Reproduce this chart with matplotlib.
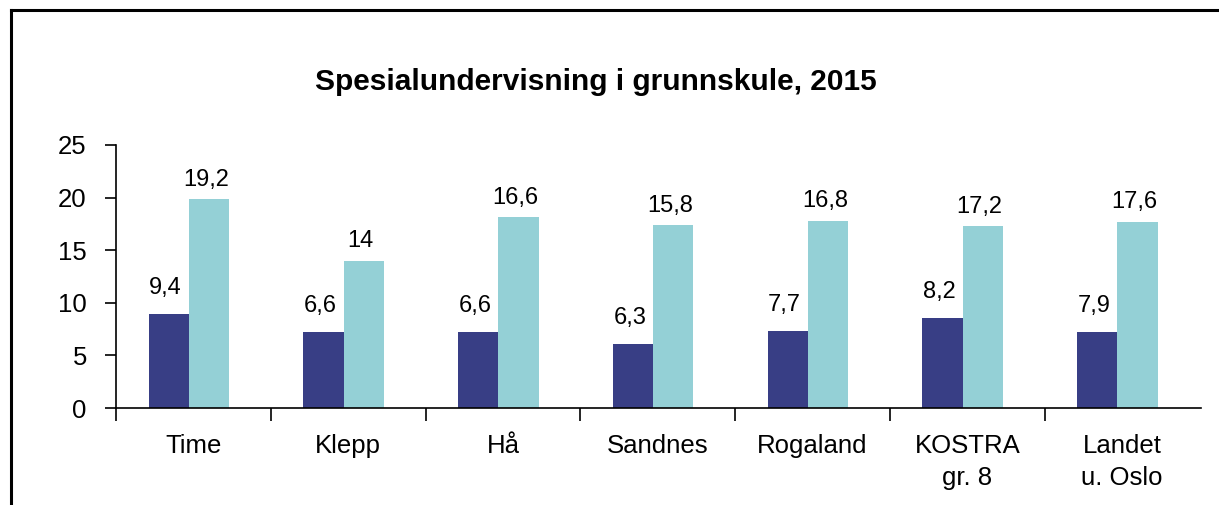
import matplotlib.pyplot as plt
from matplotlib.lines import Line2D

plt.rcParams['font.family'] = ['Liberation Sans', 'DejaVu Sans']

categories = ['Time', 'Klepp', 'Hå', 'Sandnes', 'Rogaland', 'KOSTRA\ngr. 8', 'Landet\nu. Oslo']
# bar heights as drawn in the picture
dark_vals = [8.95, 7.2, 7.2, 6.1, 7.3, 8.55, 7.2]
light_vals = [19.85, 14.0, 18.15, 17.4, 17.8, 17.3, 17.7]
# data labels as printed above the bars
dark_labels = ['9,4', '6,6', '6,6', '6,3', '7,7', '8,2', '7,9']
light_labels = ['19,2', '14', '16,6', '15,8', '16,8', '17,2', '17,6']

dark_col = '#383E85'
light_col = '#94D0D6'

fig = plt.figure(figsize=(12.19, 5.05), dpi=100)
ax = fig.add_axes([116 / 1219, 1 - 408 / 505, (1201 - 116) / 1219, 263 / 505])

x = list(range(len(categories)))
w = 0.26
off = -0.03
ax.bar([i + off - w / 2 for i in x], dark_vals, width=w, color=dark_col)
ax.bar([i + off + w / 2 for i in x], light_vals, width=w, color=light_col)

for i in x:
    ax.annotate(dark_labels[i], (i + off - w / 2 - 0.02, dark_vals[i]), xytext=(0, 11),
                textcoords='offset points', ha='center', va='bottom', fontsize=17)
    ax.annotate(light_labels[i], (i + off + w / 2 - 0.02, light_vals[i]), xytext=(0, 6),
                textcoords='offset points', ha='center', va='bottom', fontsize=17)

ax.set_xlim(-0.5, len(categories) - 0.5 + 0.01)
ax.set_ylim(0, 25)
ax.set_yticks([0, 5, 10, 15, 20, 25])
ax.tick_params(axis='y', labelsize=18.5, length=8, width=1.2, pad=13, direction='out')

ax.set_xticks([i - 0.5 for i in x])
ax.set_xticklabels([])
ax.tick_params(axis='x', length=9, width=1.2, direction='out')
ax.set_xticks(x, minor=True)
ax.set_xticklabels(categories, minor=True, fontsize=18.5, linespacing=1.4)
ax.tick_params(axis='x', which='minor', length=0, pad=19)

for s in ['top', 'right']:
    ax.spines[s].set_visible(False)
ax.spines['left'].set_linewidth(1.2)
ax.spines['bottom'].set_linewidth(1.2)

fig.text(596 / 1219, 1 - 82 / 505, 'Spesialundervisning i grunnskule, 2015', ha='center', va='center',
         fontsize=21.5, fontweight='bold')

# outer frame (top and left edges visible)
fig.add_artist(Line2D([11 / 1219, 11 / 1219], [0, 1 - 10 / 505], color='black', lw=2.2,
                      transform=fig.transFigure))
fig.add_artist(Line2D([11 / 1219, 1], [1 - 10 / 505, 1 - 10 / 505], color='black', lw=2.2,
                      transform=fig.transFigure))

fig.savefig('out.png', dpi=100)
